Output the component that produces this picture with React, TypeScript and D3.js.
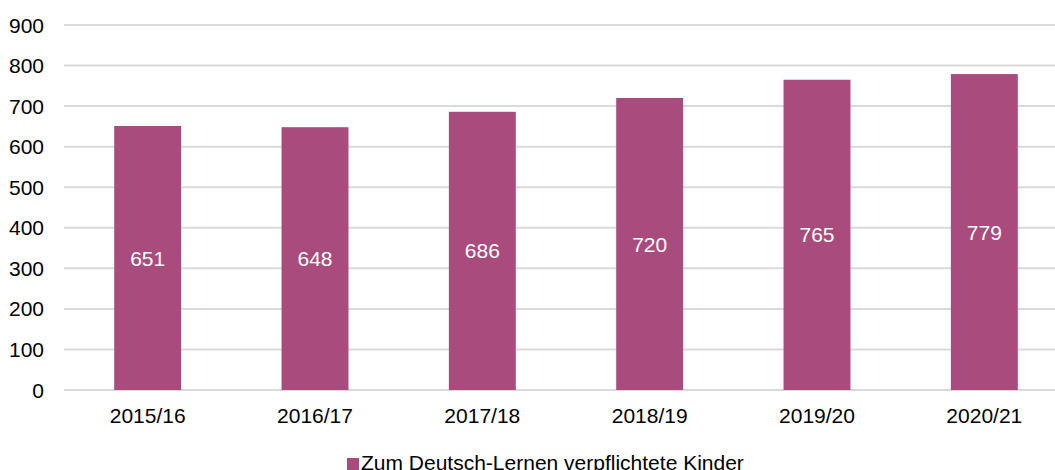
import React, { useEffect, useRef } from "react";
import * as d3 from "d3";

const years = ["2015/16", "2016/17", "2017/18", "2018/19", "2019/20", "2020/21"];
const kinder = [651, 648, 686, 720, 765, 779];
const yTicks = [0, 100, 200, 300, 400, 500, 600, 700, 800, 900];
const seriesName = "Zum Deutsch-Lernen verpflichtete Kinder";

const W = 1055;
const H = 470;
const BAR = "#a94c7d";
const FONT = "'Liberation Sans', Arial, sans-serif";
const FS = 21;

const App = () => {
  const svgRef = useRef<SVGSVGElement>(null);

  useEffect(() => {
    const svg = d3.select(svgRef.current);
    svg.selectAll("*").remove();

    const x = d3
      .scaleBand()
      .domain(years)
      .range([64, 1068])
      .paddingInner(0.6)
      .paddingOuter(0.3);

    const y = d3.scaleLinear().domain([0, 900]).range([390, 25]);

    // gitterlinien
    svg
      .append("g")
      .selectAll("line")
      .data(yTicks)
      .join("line")
      .attr("x1", 64)
      .attr("x2", W)
      .attr("y1", (d) => y(d))
      .attr("y2", (d) => y(d))
      .attr("stroke", "#d9d9d9")
      .attr("stroke-width", 2);

    svg
      .append("g")
      .selectAll("text")
      .data(yTicks)
      .join("text")
      .attr("x", 44)
      .attr("y", (d) => y(d))
      .attr("dy", "0.36em")
      .attr("text-anchor", "end")
      .attr("font-family", FONT)
      .attr("font-size", FS)
      .attr("fill", "#000")
      .text((d) => d);

    const bars = svg.append("g");
    bars
      .selectAll("rect")
      .data(kinder)
      .join("rect")
      .attr("x", (d, i) => x(years[i]))
      .attr("y", (d) => y(d))
      .attr("width", x.bandwidth())
      .attr("height", (d) => y(0) - y(d))
      .attr("fill", BAR);

    bars
      .selectAll("text")
      .data(kinder)
      .join("text")
      .attr("x", (d, i) => x(years[i]) + x.bandwidth() / 2)
      .attr("y", (d) => (y(d) + y(0)) / 2)
      .attr("dy", "0.36em")
      .attr("text-anchor", "middle")
      .attr("font-family", FONT)
      .attr("font-size", FS)
      .attr("fill", "#fff")
      .text((d) => d);

    svg
      .append("g")
      .selectAll("text")
      .data(years)
      .join("text")
      .attr("x", (d) => x(d) + x.bandwidth() / 2)
      .attr("y", 423)
      .attr("text-anchor", "middle")
      .attr("font-family", FONT)
      .attr("font-size", FS)
      .attr("fill", "#000")
      .text((d) => d);

    // legende
    const legend = svg.append("g");
    legend
      .append("rect")
      .attr("x", 347)
      .attr("y", 458)
      .attr("width", 12)
      .attr("height", 12)
      .attr("fill", BAR);
    legend
      .append("text")
      .attr("x", 361)
      .attr("y", 470)
      .attr("font-family", FONT)
      .attr("font-size", FS)
      .attr("fill", "#000")
      .text(seriesName);
  }, []);

  return (
    <svg
      ref={svgRef}
      width={W}
      height={H}
      style={{ position: "absolute", left: 0, top: 0, background: "#fff" }}
    />
  );
};

export default App;
